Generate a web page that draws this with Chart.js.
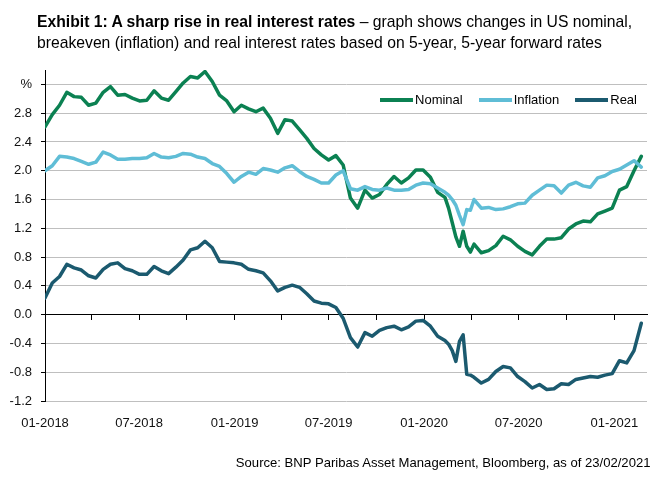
<!DOCTYPE html>
<html>
<head>
<meta charset="utf-8">
<script src="https://cdn.jsdelivr.net/npm/chart.js@4/dist/chart.umd.min.js"></script>
<style>
  html, body { margin: 0; padding: 0; background: #fff; }
  #wrap { position: relative; width: 662px; height: 479px; overflow: hidden; background: #fff; }
  #title { position: absolute; left: 37px; top: 11px; font-family: "Liberation Sans", Arial, sans-serif; font-size: 17px; line-height: 21px; color: #000; white-space: nowrap; transform: scaleX(0.924); transform-origin: left top; }
  #source { position: absolute; right: 11px; top: 455px; font-family: "Liberation Sans", Arial, sans-serif; font-size: 13.5px; line-height: 15px; color: #000; white-space: nowrap; transform: scaleX(0.97); transform-origin: right top; }
  #legend { position: absolute; right: 25px; top: 92px; font-family: "Liberation Sans", Arial, sans-serif; font-size: 13px; line-height: 16px; color: #000; display: flex; white-space: nowrap; }
  #legend .item { display: flex; align-items: center; margin-left: 16px; }
  #legend .bar { display: inline-block; width: 33px; height: 4px; margin-right: 2px; }
  canvas { position: absolute; left: 0; top: 0; }
</style>
</head>
<body>
<div id="wrap">
  <canvas id="c" width="662" height="479"></canvas>
  <div id="title"><b>Exhibit 1: A sharp rise in real interest rates</b> – graph shows changes in US nominal,<br>breakeven (inflation) and real interest rates based on 5-year, 5-year forward rates</div>
  <div id="legend"></div>
  <div id="source">Source: BNP Paribas Asset Management, Bloomberg, as of 23/02/2021</div>
</div>
<script>
// ---- Data (weeks since 01-01-2018) ----
const weeks = [
  0, 2, 4, 6, 8, 10, 12, 14, 16, 18,
  20, 22, 24, 26, 28, 30, 32, 34, 36, 38,
  40, 42, 44, 46, 48, 50, 52, 54, 56, 58,
  60, 62, 64, 66, 68, 70, 72, 74, 76, 78,
  80, 82, 84, 86, 88, 90, 92, 94, 96, 98,
  100, 102, 104, 106, 108, 110,
  111, 112, 113, 114, 115, 116, 117, 118,
  120, 122, 124, 126, 128, 130, 132, 134, 136, 138,
  140, 142, 144, 146, 148, 150, 152, 154, 156, 158,
  160, 162, 164
];

const seriesNames = ['Nominal', 'Inflation', 'Real'];
const seriesColors = ['#0b8152', '#5fbdd6', '#1b5a6f'];

const nominal = [
  2.61, 2.78, 2.91, 3.09, 3.03, 3.02, 2.91, 2.94, 3.09, 3.17,
  3.05, 3.06, 3.01, 2.97, 2.98, 3.11, 3.01, 2.98, 3.10, 3.22,
  3.31, 3.29, 3.38, 3.24, 3.05, 2.97, 2.82, 2.91, 2.86, 2.82,
  2.87, 2.73, 2.52, 2.71, 2.69, 2.57, 2.45, 2.31, 2.22, 2.15,
  2.21, 2.08, 1.62, 1.48, 1.73, 1.62, 1.67, 1.81, 1.92, 1.83,
  1.90, 2.01, 2.01, 1.91, 1.70, 1.63,
  1.48, 1.28, 1.08, 0.95, 1.16, 0.95, 0.87, 0.98,
  0.86, 0.89, 0.96, 1.09, 1.04, 0.95, 0.88, 0.83, 0.95, 1.05,
  1.05, 1.07, 1.19, 1.26, 1.30, 1.29, 1.40, 1.44, 1.48, 1.73,
  1.78, 2.00, 2.20
];

const inflation = [
  2.00, 2.07, 2.20, 2.19, 2.17, 2.13, 2.09, 2.12, 2.26, 2.22,
  2.16, 2.16, 2.17, 2.17, 2.18, 2.24, 2.19, 2.18, 2.20, 2.24,
  2.23, 2.19, 2.17, 2.10, 2.06, 1.96, 1.84, 1.92, 1.98, 1.95,
  2.03, 2.01, 1.98, 2.04, 2.07, 1.99, 1.92, 1.88, 1.83, 1.83,
  1.94, 2.00, 1.75, 1.73, 1.78, 1.74, 1.73, 1.76, 1.73, 1.73,
  1.74, 1.80, 1.83, 1.82, 1.76, 1.70,
  1.66, 1.60, 1.52, 1.38, 1.25, 1.46, 1.45, 1.60,
  1.48, 1.49, 1.46, 1.47, 1.50, 1.54, 1.55, 1.66, 1.73, 1.80,
  1.79, 1.69, 1.80, 1.84, 1.79, 1.77, 1.90, 1.93, 1.99, 2.02,
  2.08, 2.14, 2.05
];

const real = [
  0.23, 0.44, 0.53, 0.70, 0.65, 0.62, 0.54, 0.51, 0.63, 0.70,
  0.72, 0.64, 0.61, 0.56, 0.56, 0.67, 0.61, 0.57, 0.66, 0.76,
  0.90, 0.93, 1.02, 0.93, 0.74, 0.73, 0.72, 0.70, 0.63, 0.61,
  0.58, 0.47, 0.33, 0.38, 0.41, 0.38, 0.29, 0.19, 0.16, 0.15,
  0.10, -0.05, -0.32, -0.45, -0.25, -0.30, -0.22, -0.18, -0.16, -0.21,
  -0.17, -0.09, -0.08, -0.16, -0.30, -0.36,
  -0.41, -0.50, -0.65, -0.37, -0.28, -0.83, -0.84, -0.87,
  -0.95, -0.90, -0.79, -0.72, -0.74, -0.86, -0.93, -1.02, -0.97, -1.04,
  -1.03, -0.96, -0.97, -0.90, -0.88, -0.86, -0.87, -0.84, -0.82, -0.64,
  -0.67, -0.50, -0.12
];

// x axis: days since 01-01-2018; ticks at quarter starts, labels every 6 months
const tickDays = [0, 90, 181, 273, 365, 455, 546, 638, 730, 821, 912, 1004, 1096];
const xTickLabels = ['01-2018', '', '07-2018', '', '01-2019', '', '07-2019', '', '01-2020', '', '07-2020', '', '01-2021'];
const xMaxDay = 1159;

// y axis
const yTickValues = [-1.2, -0.8, -0.4, 0.0, 0.4, 0.8, 1.2, 1.6, 2.0, 2.4, 2.8, 3.2];
const yTickLabels = ['-1.2', '-0.8', '-0.4', '0.0', '0.4', '0.8', '1.2', '1.6', '2.0', '2.4', '2.8', '%'];
const yMin = -1.2, yMax = 3.4;

// ---- Build ----
const toPoints = arr => arr.map((v, i) => ({ x: weeks[i] * 7, y: v }));
const allSeries = [nominal, inflation, real];

const tickFont = { family: '"Liberation Sans", Arial, sans-serif', size: 13 };
const setXTicks = s => { s.ticks = tickDays.map(v => ({ value: v })); };

const datasets = allSeries.map((arr, i) => ({
  label: seriesNames[i],
  data: toPoints(arr),
  borderColor: seriesColors[i],
  backgroundColor: seriesColors[i],
  borderWidth: 3.5,
  pointRadius: 0,
  tension: 0,
  borderJoinStyle: 'round',
  borderCapStyle: 'round',
  order: 3 - i,
  xAxisID: 'x',
  yAxisID: 'y'
}));

new Chart(document.getElementById('c'), {
  type: 'line',
  data: { datasets },
  options: {
    responsive: false,
    animation: false,
    events: [],
    layout: { padding: { left: 0, right: 15, top: 70, bottom: 38 } },
    plugins: { legend: { display: false }, tooltip: { enabled: false }, title: { display: false } },
    scales: {
      x: {
        type: 'linear', position: 'bottom', min: 0, max: xMaxDay,
        afterBuildTicks: setXTicks,
        afterFit: s => { s.height = 40; },
        ticks: {
          autoSkip: false, maxRotation: 0, minRotation: 0, padding: 15, color: '#111', font: tickFont,
          callback: (v) => { const i = tickDays.indexOf(v); return i >= 0 ? xTickLabels[i] : ''; }
        },
        grid: { display: false, drawTicks: false },
        border: { display: false }
      },
      x0: {
        type: 'linear', position: { y: 0 }, min: 0, max: xMaxDay,
        afterBuildTicks: setXTicks,
        afterFit: s => { s.height = 0; },
        ticks: { display: false },
        grid: { drawOnChartArea: false, drawTicks: true, tickLength: 5, color: '#000', tickColor: '#000', lineWidth: 1 },
        border: { display: true, color: '#000', width: 1 }
      },
      y: {
        type: 'linear', position: 'left', min: yMin, max: yMax,
        afterBuildTicks: s => { s.ticks = yTickValues.map(v => ({ value: v })); },
        afterFit: s => { s.width = 45; },
        ticks: {
          padding: 9, color: '#111', font: tickFont,
          callback: (v, i) => yTickLabels[i]
        },
        grid: { color: '#bfbfbf', lineWidth: 1, drawTicks: true, tickLength: 4, tickColor: '#000' },
        border: { display: true, color: '#000', width: 1 }
      }
    }
  }
});

// HTML legend built from the series names/colours
const legend = document.getElementById('legend');
seriesNames.forEach((name, i) => {
  const item = document.createElement('span');
  item.className = 'item';
  const bar = document.createElement('span');
  bar.className = 'bar';
  bar.style.background = seriesColors[i];
  item.appendChild(bar);
  item.appendChild(document.createTextNode(name));
  legend.appendChild(item);
});
</script>
</body>
</html>
